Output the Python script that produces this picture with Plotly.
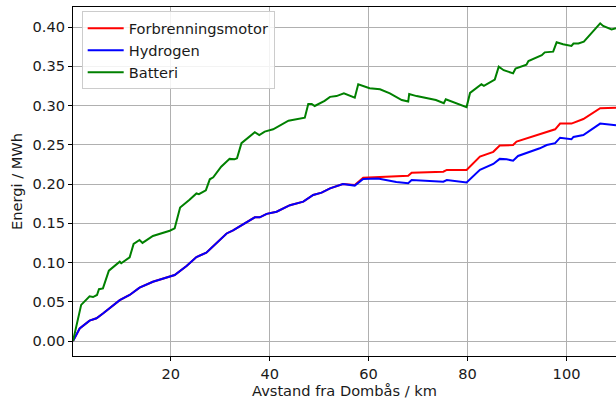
import plotly.graph_objects as go

# Batteri (green)
bat_x = [0.25, 1.9, 3.6, 4.3, 5.1, 5.5, 6.3, 7.5, 9.7, 10.0, 11.7, 12.5, 13.7, 14.3, 16.4, 19.8, 20.8,
         21.9, 23.8, 25.2, 25.7, 27.1, 27.9, 28.6, 30.2, 31.9, 32.9, 33.4, 34.3, 37.0, 37.9, 39.0, 40.7,
         43.8, 47.1, 47.8, 48.5, 49.1, 51.1, 52.2, 53.5, 55.0, 57.2, 57.9, 60.2, 62.3, 64.3, 66.7, 68.0,
         68.2, 69.7, 71.7, 73.6, 75.2, 75.6, 79.8, 80.5, 82.8, 83.3, 85.5, 86.3, 87.3, 89.2, 89.7, 91.9,
         92.3, 95.0, 95.6, 97.3, 98.0, 99.3, 101.0, 101.4, 102.4, 103.5, 106.8, 107.4, 109.1, 110.0]
bat_y = [0.0, 0.046, 0.057, 0.056, 0.0586, 0.066, 0.067, 0.0896, 0.101, 0.099, 0.1066, 0.1236, 0.1287,
         0.125, 0.1338, 0.1405, 0.1435, 0.170, 0.180, 0.188, 0.187, 0.192, 0.206, 0.2085, 0.222, 0.232,
         0.2315, 0.2327, 0.252, 0.266, 0.2624, 0.2667, 0.2697, 0.2806, 0.2845, 0.302, 0.302, 0.2994,
         0.306, 0.311, 0.312, 0.3155, 0.310, 0.327, 0.322, 0.3206, 0.3155, 0.307, 0.305, 0.3146, 0.312,
         0.309, 0.307, 0.303, 0.308, 0.2980, 0.316, 0.327, 0.325, 0.333, 0.3495, 0.345, 0.341, 0.347,
         0.352, 0.3567, 0.364, 0.3677, 0.3686, 0.3805, 0.378, 0.376, 0.379, 0.379, 0.3813, 0.4047,
         0.4013, 0.397, 0.3985]

# Hydrogen (blue)
hyd_x = [0.25, 1.6, 3.6, 5.0, 6.3, 9.7, 11.7, 13.7, 16.4, 20.8, 23.2, 25.2, 27.2, 31.3, 32.6, 37.0,
         38.0, 39.4, 41.4, 44.1, 46.8, 48.8, 50.5, 52.2, 54.8, 57.2, 58.9, 61.9, 65.6, 68.0, 68.7,
         72.0, 75.1, 75.8, 79.8, 82.5, 85.2, 86.5, 87.9, 89.2, 90.2, 94.6, 96.0, 97.7, 98.7, 101.0,
         101.4, 103.4, 106.8, 110.0]
hyd_y = [0.0, 0.016, 0.026, 0.029, 0.035, 0.052, 0.0586, 0.068, 0.0755, 0.084, 0.0955, 0.107, 0.1125,
         0.137, 0.141, 0.1575, 0.1575, 0.162, 0.1647, 0.173, 0.1775, 0.186, 0.189, 0.1945, 0.200, 0.198,
         0.2064, 0.207, 0.2025, 0.2009, 0.205, 0.204, 0.203, 0.205, 0.202, 0.218, 0.2255, 0.232, 0.2314,
         0.2297, 0.2357, 0.2455, 0.2497, 0.252, 0.259, 0.257, 0.260, 0.2624, 0.277, 0.2748]

# Forbrenningsmotor (red)
forb_x = [0.25, 1.6, 3.6, 5.0, 6.3, 9.7, 11.7, 13.7, 16.4, 20.8, 23.2, 25.2, 27.2, 31.3, 32.6, 37.0,
          38.0, 39.4, 41.4, 44.1, 46.8, 48.8, 50.5, 52.2, 54.8, 57.2, 58.9, 68.0, 68.7, 75.1, 75.8,
          79.8, 82.5, 85.2, 86.5, 89.2, 89.9, 94.6, 96.0, 97.7, 98.7, 101.0, 103.4, 106.8, 110.0]
forb_y = [0.0, 0.016, 0.026, 0.029, 0.035, 0.052, 0.0586, 0.068, 0.0755, 0.084, 0.0955, 0.107, 0.1125,
          0.137, 0.141, 0.1575, 0.1575, 0.162, 0.1647, 0.173, 0.1775, 0.186, 0.189, 0.1945, 0.200,
          0.1987, 0.208, 0.2105, 0.2144, 0.2157, 0.218, 0.218, 0.235, 0.241, 0.249, 0.2497, 0.254,
          0.2633, 0.2667, 0.2697, 0.277, 0.277, 0.2828, 0.2965, 0.297]

x_ticks = [20, 40, 60, 80, 100]
y_ticks = [0.0, 0.05, 0.10, 0.15, 0.20, 0.25, 0.30, 0.35, 0.40]

FS = 14.6
TXT = "#1a1a1a"

fig = go.Figure()
fig.add_trace(go.Scatter(x=forb_x, y=forb_y, mode="lines", name="Forbrenningsmotor",
                         legendgroup="a", line=dict(color="red", width=2)))
fig.add_trace(go.Scatter(x=hyd_x, y=hyd_y, mode="lines", name="Hydrogen",
                         legendgroup="b", line=dict(color="blue", width=2)))
fig.add_trace(go.Scatter(x=bat_x, y=bat_y, mode="lines", name="Batteri",
                         legendgroup="c", line=dict(color="green", width=2)))

fig.update_layout(
    width=616, height=405,
    margin=dict(l=73, r=0, t=7, b=49),
    paper_bgcolor="white", plot_bgcolor="white",
    font=dict(family="DejaVu Sans", size=FS, color=TXT),
    showlegend=True,
    legend=dict(x=0.016, y=0.988, xanchor="left", yanchor="top",
                bgcolor="rgba(255,255,255,0.85)", bordercolor="#cccccc", borderwidth=1,
                font=dict(family="DejaVu Sans", size=FS, color=TXT),
                itemwidth=36, tracegroupgap=0),
    xaxis=dict(range=[0.25, 110], tickvals=x_ticks, ticktext=[str(v) for v in x_ticks],
               automargin=False,
               showgrid=True, gridcolor="#b0b0b0", gridwidth=1,
               showline=True, linecolor="black", linewidth=1, mirror=True,
               ticks="outside", ticklen=4, tickcolor="black", zeroline=False,
               tickfont=dict(family="DejaVu Sans", size=FS, color=TXT),
               title=dict(text="Avstand fra Dombås / km", standoff=3,
                          font=dict(family="DejaVu Sans", size=FS, color=TXT))),
    yaxis=dict(range=[-0.0191, 0.4255], tickvals=y_ticks, tickformat=".2f",
               automargin=False,
               showgrid=True, gridcolor="#b0b0b0", gridwidth=1,
               showline=True, linecolor="black", linewidth=1,
               ticks="outside", ticklen=4, tickcolor="black", zeroline=False,
               tickfont=dict(family="DejaVu Sans", size=FS, color=TXT),
               title=dict(text="Energi / MWh", standoff=6,
                          font=dict(family="DejaVu Sans", size=FS, color=TXT))),
)
fig.write_html("out.html", config={"displayModeBar": False},
               post_script="document.body.style.margin='0';document.body.style.padding='0';")
